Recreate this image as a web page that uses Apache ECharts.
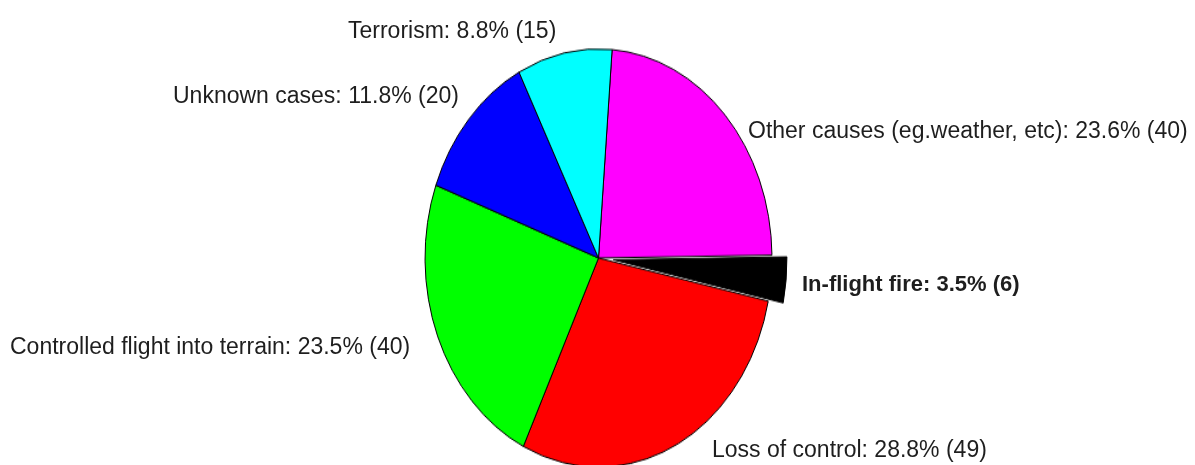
<!DOCTYPE html>
<html><head><meta charset="utf-8">
<script src="https://cdn.jsdelivr.net/npm/echarts@6/dist/echarts.min.js"></script>
<style>
html,body{margin:0;padding:0;background:#fff;overflow:hidden;width:1195px;height:465px;}
#pie{position:absolute;left:0;top:0;width:1195px;height:465px;transform:scaleY(1.205);transform-origin:0 258px;}
#labels{position:absolute;left:0;top:0;width:1195px;height:465px;}
</style></head><body>
<div id="pie"></div><div id="labels"></div>
<script>
// ---- data ----
const categories = ['Other causes (eg.weather, etc)', 'In-flight fire', 'Loss of control', 'Controlled flight into terrain', 'Unknown cases', 'Terrorism'];
const counts = [40, 6, 49, 40, 20, 15];
const percents = ['23.6', '3.5', '28.8', '23.5', '11.8', '8.8'];
const colors = ['#ff00ff', '#000000', '#ff0000', '#00ff00', '#0000ff', '#00ffff'];
const explodedIndex = 1;

// ---- layout (not data) ----
const labelAnchors = [[748, 132], [802, 285], [712, 451], [10, 348], [173, 97], [348, 32]];
const pieCenter = [598.5, 258];
const pieRadius = 173.5;
const startAngle = 85.5;

const pieChart = echarts.init(document.getElementById('pie'), null, {renderer: 'canvas'});
pieChart.setOption({
  animation: false,
  series: [{
    type: 'pie',
    silent: true,
    center: pieCenter,
    radius: [0, pieRadius],
    startAngle: startAngle,
    clockwise: true,
    selectedMode: 'single',
    selectedOffset: 15,
    label: {show: false},
    labelLine: {show: false},
    itemStyle: {borderColor: '#000', borderWidth: 1},
    emphasis: {disabled: true},
    data: categories.map((c, i) => ({
      name: c,
      value: counts[i],
      selected: i === explodedIndex,
      itemStyle: {color: colors[i]},
      select: {itemStyle: {color: colors[i], borderColor: '#000', borderWidth: 1}}
    }))
  }]
});

const labelChart = echarts.init(document.getElementById('labels'), null, {renderer: 'canvas'});
labelChart.setOption({
  animation: false,
  series: [{
    type: 'pie',
    silent: true,
    center: pieCenter,
    radius: [0, pieRadius],
    startAngle: startAngle,
    clockwise: true,
    itemStyle: {color: 'rgba(0,0,0,0)', borderWidth: 0},
    emphasis: {disabled: true},
    labelLine: {show: false},
    label: {
      show: true,
      position: 'outside',
      overflow: 'none',
      edgeDistance: 0,
      fontFamily: 'Liberation Sans, Arial, sans-serif',
      fontSize: 23,
      color: '#1e1e1e',
      formatter: p => p.name + ': ' + percents[p.dataIndex] + '% (' + p.value + ')'
    },
    labelLayout: p => ({
      x: labelAnchors[p.dataIndex][0],
      y: labelAnchors[p.dataIndex][1],
      align: 'left',
      verticalAlign: 'middle',
      width: 600
    }),
    data: categories.map((c, i) => ({
      name: c,
      value: counts[i],
      label: i === explodedIndex ? {fontWeight: 'bold', fontSize: 22} : {}
    }))
  }]
});
</script>
</body></html>
